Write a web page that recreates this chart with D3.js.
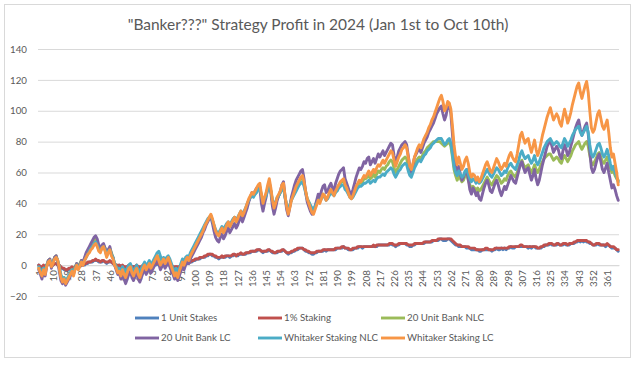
<!DOCTYPE html>
<html><head><meta charset="utf-8">
<script src="https://cdn.jsdelivr.net/npm/d3@7"></script>
<style>body{margin:0;background:#fff}text{font-family:Lato,"Open Sans",sans-serif}</style>
</head><body><svg id="c" width="636" height="374"></svg>
<script>
const titleText = '"Banker???" Strategy Profit in 2024 (Jan 1st to Oct 10th)';
const seriesNames = ["1 Unit Stakes","1%  Staking","20 Unit Bank NLC","20 Unit Bank LC","Whitaker Staking NLC","Whitaker Staking LC"];
const seriesColors = ["#4F81BD","#C0504D","#9BBB59","#8064A2","#4BACC6","#F79646"];
const yTicks = [-20,0,20,40,60,80,100,120,140];
const xTickLabels = [1,10,19,28,37,46,55,64,73,82,91,100,109,118,127,136,145,154,163,172,181,190,199,208,217,226,235,244,253,262,271,280,289,298,307,316,325,334,343,352,361];

const oneUnit = [
0,-1,-2,-1,-1,0,1,1,0,0, 1,1,0,-1,-2,-2,-3,-3,-3,-3, -2,-2,-2,-1,-1,-1,-1,0,0,0, 1,1,2,2,2,3,3,3,2,2,
2,3,2,1,2,2,2,1,0,0, -1,0,-1,-1,-1,-2,-1,-1,0,-1, -1,-1,-1,-1,-2,-1,-1,0,-1,-1, 0,-1,0,0,0,1,0,0,0,0,
0,0,1,0,-1,-1,-2,-1,-2,-1, -1,0,0,1,1,1,2,2,3,3, 4,4,4,5,5,5,6,6,7,7, 6,6,5,5,4,5,5,5,5,6,
6,5,6,6,7,6,6,7,7,7, 7,7,8,8,8,9,9,9,9,10, 10,9,8,9,9,9,10,9,8,8, 8,8,9,9,9,10,9,8,7,8,
8,9,9,10,10,11,11,11,10,9, 9,8,8,7,7,8,8,9,9,9, 9,10,9,10,10,10,10,10,10,11, 11,11,11,12,11,11,10,10,10,10,
11,11,11,12,12,11,12,12,12,12, 12,12,12,12,12,13,13,13,13,13, 13,13,13,14,13,13,12,13,13,14, 14,14,14,13,13,12,12,13,13,14,
14,14,14,14,14,15,15,15,15,15, 16,16,16,16,17,17,16,16,16,17, 17,16,15,14,13,13,12,12,12,12, 12,11,11,11,10,10,10,10,10,9,
9,10,10,10,10,10,10,9,10,10, 11,10,10,11,10,11,10,11,11,12, 11,11,12,12,12,12,12,12,12,12, 11,12,11,12,12,11,11,11,11,12,
12,13,13,13,14,13,13,13,13,14, 13,13,13,14,13,13,13,14,14,14, 15,15,16,15,16,15,16,15,15,14, 14,13,13,13,14,13,13,13,13,12,
13,13,12,11,11,11,10,9];

const onePct = [
0,-1,-1,0,-1,0,1,1,0,0, 1,1,0,0,-1,-2,-2,-3,-3,-2, -2,-1,-2,-1,-1,-1,0,0,0,1, 1,2,2,2,3,3,4,3,3,2,
3,3,2,2,2,3,2,1,1,0, 0,0,-1,0,-1,-1,-1,0,0,-1, -1,-1,0,-1,-1,-1,0,0,-1,0, 0,0,0,0,1,1,1,0,0,1,
0,1,1,0,0,-1,-1,-1,-1,-1, 0,1,1,1,2,2,2,3,3,4, 4,4,5,5,5,6,6,7,7,7, 7,6,6,5,5,5,6,5,6,6,
6,6,6,7,7,6,7,7,8,7, 7,8,8,8,9,9,9,9,10,10, 10,9,9,9,9,10,10,9,9,8, 8,9,9,9,10,10,9,8,8,8,
9,9,10,10,11,11,11,11,10,10, 9,9,8,8,8,8,9,9,9,9, 10,10,10,10,10,10,10,10,11,11, 11,11,12,12,11,11,11,10,10,11,
11,11,12,12,12,12,12,12,12,12, 12,12,13,12,13,13,13,13,13,13, 13,13,14,14,14,13,13,13,14,14, 14,14,14,14,13,13,13,13,14,14,
14,14,14,14,15,15,15,15,15,16, 16,16,16,17,17,17,17,17,17,17, 17,17,16,15,14,13,13,13,12,12, 12,12,12,11,11,11,11,10,10,10,
10,10,10,11,11,10,10,10,10,11, 11,11,11,11,11,11,11,11,12,12, 12,12,12,12,12,13,13,12,12,12, 12,12,12,12,12,12,11,11,12,12,
13,13,13,14,14,14,13,13,14,14, 13,13,14,14,14,13,14,14,14,15, 15,16,16,16,16,16,16,16,15,15, 14,13,13,14,14,14,13,13,13,13,
14,13,12,12,12,11,10,10];

const unit20NLC = [
-2,-4,-6,-2,-5,0,3,4,-1,2, 5,6,3,-2,-7,-10,-8,-11,-9,-7, -5,-3,-5,-1,1,-1,1,3,2,4, 7,9,11,13,14,16,17,15,12,10,
12,13,11,7,10,11,8,5,1,-1, -4,-3,-6,-3,-5,-7,-4,-2,-1,-4, -6,-3,-1,-4,-6,-3,-1,1,-1,0, 2,-1,1,3,5,6,5,2,1,3,
1,3,4,2,-1,-3,-6,-4,-7,-4, -1,2,0,3,5,4,7,9,11,13, 15,17,19,21,23,25,27,29,31,32, 29,25,22,20,19,22,24,21,23,26,
27,25,27,29,31,28,30,32,34,32, 34,36,39,42,44,46,45,46,48,50, 51,45,40,43,46,50,53,48,41,37, 40,43,45,47,50,51,44,38,34,38,
43,46,49,51,53,54,56,57,53,48, 43,41,38,36,35,38,41,43,42,44, 46,45,43,44,46,48,47,46,48,50, 52,53,54,55,51,49,47,45,44,46,
48,50,52,53,53,54,56,56,57,58, 56,57,59,57,59,61,60,62,63,62, 64,65,67,68,67,63,60,62,64,66, 68,69,70,69,64,60,59,62,65,67,
69,70,69,71,73,74,76,77,78,79, 80,80,80,80,80,79,78,77,78,79, 80,77,70,62,58,55,58,56,54,55, 58,59,55,52,50,51,50,48,50,48,
49,51,53,55,57,55,53,52,54,56, 58,57,55,53,54,56,55,58,60,61, 59,58,57,60,63,66,68,65,63,64, 65,62,60,62,65,62,60,62,65,67,
69,70,71,72,72,70,68,69,70,69, 67,66,69,71,69,67,69,71,74,76, 78,79,80,77,75,77,79,80,77,71, 66,65,67,69,72,73,70,67,66,68,
70,67,63,60,61,58,56,55];

const unit20LC = [
-3,-6,-9,-4,-7,-1,3,4,-2,2, 5,6,2,-4,-10,-12,-10,-13,-11,-9, -7,-4,-6,-2,1,-2,0,3,2,5, 8,10,12,14,16,18,19,17,13,11,
13,14,11,7,10,12,7,5,0,-3, -6,-5,-9,-5,-9,-12,-9,-6,-4,-8, -10,-7,-5,-9,-11,-8,-5,-3,-6,-4, -2,-5,-3,-1,2,4,1,-3,-1,1,
-2,0,2,-1,-4,-6,-9,-7,-10,-7, -4,-1,-3,0,2,1,4,6,8,10, 12,14,16,18,21,23,26,28,30,31, 27,22,18,16,15,18,20,17,19,22,
24,21,23,25,27,24,26,29,31,28, 31,34,37,41,44,47,45,48,50,51, 50,40,35,40,44,50,54,47,38,33, 37,42,45,48,52,54,44,36,32,38,
44,48,52,55,57,59,61,62,56,47, 41,38,35,33,34,38,42,46,44,48, 51,52,47,48,51,53,50,48,53,56, 59,61,62,63,56,53,50,47,46,49,
53,57,60,63,62,64,67,66,69,70, 65,67,69,66,69,72,70,72,74,71, 73,75,77,79,78,71,66,70,74,76, 78,79,80,78,71,64,60,65,70,72,
74,76,73,76,79,81,83,86,88,90, 92,95,98,100,102,103,98,94,97,103, 104,98,85,72,64,59,64,59,55,57, 60,62,56,49,46,50,48,45,47,43,
42,46,50,53,55,52,48,47,50,53, 55,52,48,45,48,51,49,52,55,58, 56,54,53,57,61,65,67,63,60,62, 63,59,55,58,62,56,52,55,60,65,
69,73,77,79,81,77,73,75,77,75, 71,69,74,78,75,71,73,77,81,85, 89,92,94,88,84,87,90,92,85,74, 63,60,62,66,70,72,67,62,60,63,
66,60,55,50,52,49,45,42];

const whitakerNLC = [
-1,-3,-5,-2,-4,0,2,3,0,2, 4,5,3,-1,-6,-9,-8,-10,-9,-7, -5,-3,-5,-2,0,-2,0,2,1,3, 5,7,9,11,12,14,15,13,10,9,
11,12,10,6,9,10,7,5,1,-1, -3,-2,-5,-1,-3,-4,-2,0,1,-2, -4,-2,0,-3,-5,-2,0,2,0,1, 3,0,2,4,6,8,9,6,3,5,
3,5,6,4,1,-2,-4,-2,-5,-2, 1,4,2,5,6,5,8,10,12,14, 16,18,20,22,24,26,28,30,31,32, 29,26,23,21,21,23,25,23,25,27,
28,26,28,30,31,29,31,33,35,33, 35,37,40,42,44,45,44,46,47,49, 50,45,41,43,45,49,52,48,42,39, 41,44,45,47,49,50,44,39,36,39,
42,44,46,48,50,52,53,54,51,47, 43,41,39,37,36,38,40,42,41,43, 45,44,42,43,45,47,46,45,47,48, 50,51,52,52,49,48,46,44,43,44,
46,48,50,51,51,52,53,53,54,55, 53,54,55,54,56,57,57,58,59,58, 60,61,62,63,62,59,57,59,61,62, 64,65,66,65,61,58,57,60,63,65,
67,68,67,69,71,72,74,75,76,78, 79,80,81,82,82,82,80,78,79,81, 82,79,72,64,60,58,61,59,57,58, 61,62,59,56,54,56,55,53,55,53,
54,56,58,60,62,60,58,57,59,61, 63,62,60,58,59,61,60,63,65,66, 64,63,62,65,68,72,74,71,69,70, 71,68,66,68,71,67,65,67,70,73,
76,78,80,81,82,80,78,79,80,79, 77,76,79,82,80,77,79,81,84,86, 88,89,90,86,84,86,88,90,86,78, 72,70,72,75,78,79,76,72,70,72,
75,71,66,62,64,60,57,54];

const whitakerLC = [
-2,-5,-7,-3,-6,-1,2,3,-1,1, 4,5,3,-2,-8,-11,-9,-12,-10,-8, -6,-4,-7,-3,0,-3,-1,2,0,3, 5,7,8,10,11,13,14,12,9,8,
11,12,9,5,8,10,6,4,0,-2, -5,-4,-7,-3,-6,-8,-5,-2,-1,-5, -7,-4,-2,-6,-8,-5,-2,0,-3,-1, 1,-2,0,2,4,6,3,0,2,4,
1,3,5,2,-1,-4,-7,-5,-8,-4, -1,2,0,3,5,3,6,8,10,12, 14,16,18,20,22,25,27,29,31,33, 30,26,22,20,19,22,24,21,23,26,
28,25,27,29,31,28,30,33,35,32, 34,37,40,43,45,47,46,48,50,52, 53,46,40,44,47,52,56,50,42,37, 40,44,46,48,52,53,45,38,33,37,
42,45,48,51,53,55,57,58,54,48, 43,40,37,34,33,36,39,42,40,43, 46,45,42,44,47,49,47,45,48,50, 52,54,55,56,52,50,47,44,43,45,
48,51,53,55,54,56,58,57,59,61, 58,60,62,60,63,65,64,66,68,66, 68,70,72,74,73,68,64,67,70,72, 75,76,78,76,70,64,62,66,70,73,
76,78,76,79,82,84,86,89,91,94, 96,99,102,105,108,110,106,100,102,106, 105,101,90,78,70,65,70,66,62,64, 68,70,66,60,57,59,58,55,57,54,
56,59,62,65,67,64,61,60,63,66, 69,67,64,62,64,66,64,68,71,73, 70,68,67,72,78,84,86,82,79,81, 82,77,73,77,81,75,71,74,79,84,
88,92,96,99,102,98,94,96,98,96, 92,90,96,101,97,92,95,99,104,108, 112,116,118,112,108,112,116,119,112,100, 89,86,88,93,98,100,95,90,88,91,
94,86,76,70,72,66,60,52];

const seriesValues = [oneUnit, onePct, unit20NLC, unit20LC, whitakerNLC, whitakerLC];
const N = whitakerLC.length;
const categories = d3.range(1, N + 1);

const plot = {left: 38, right: 619, top: 49, bottom: 296};
const svg = d3.select("#c");
const textColor = "#595959";

svg.append("rect").attr("x", 4.5).attr("y", 4.5).attr("width", 626).attr("height", 353)
  .attr("fill", "#fff").attr("stroke", "#d9d9d9");

function fitSize(str, basePx, targetW) {
  const t = svg.append("text").attr("font-size", basePx).text(str);
  const w = t.node().getComputedTextLength();
  t.remove();
  return basePx * targetW / w;
}
const titleSize = fitSize(titleText, 14, 381);
const smallSize = fitSize("Whitaker Staking NLC", 10, 94);

svg.append("text").attr("x", 318).attr("y", 30).attr("text-anchor", "middle")
  .attr("font-size", titleSize).attr("fill", textColor).text(titleText);

const x = d3.scalePoint().domain(categories).range([plot.left, plot.right]).padding(0.5);
const y = d3.scaleLinear().domain([-20, 140]).range([plot.bottom, plot.top]);

const yAxis = svg.append("g").attr("transform", `translate(${plot.left},0)`)
  .call(d3.axisLeft(y).tickValues(yTicks).tickSizeInner(-(plot.right - plot.left)).tickSizeOuter(0).tickPadding(11));
yAxis.select(".domain").remove();
yAxis.selectAll(".tick line").attr("stroke", "#d9d9d9").attr("stroke-width", 1);
yAxis.selectAll(".tick text").attr("fill", textColor).attr("font-size", smallSize)
  .style("font-family", 'Lato,"Open Sans",sans-serif');

const xAxis = svg.append("g").attr("transform", `translate(0,${y(0)})`)
  .call(d3.axisBottom(x).tickValues(xTickLabels).tickSize(0).tickPadding(0));
xAxis.select(".domain").attr("stroke", "#d9d9d9");
xAxis.selectAll(".tick text").attr("fill", textColor).attr("font-size", smallSize)
  .style("font-family", 'Lato,"Open Sans",sans-serif')
  .attr("transform", "rotate(-90)").attr("text-anchor", "end")
  .attr("x", -5).attr("y", 0).attr("dy", "0.35em");

const line = d3.line().x((d, i) => x(categories[i])).y(d => y(d)).curve(d3.curveLinear);
seriesValues.forEach((vals, k) => {
  svg.append("path").datum(vals).attr("d", line).attr("fill", "none")
    .attr("stroke", seriesColors[k]).attr("stroke-width", 2.9)
    .attr("stroke-linejoin", "round").attr("stroke-linecap", "round");
});

const legX = [135, 258, 381];
const legY = [318, 338];
seriesNames.forEach((name, k) => {
  const cx = legX[k % 3], cy = legY[Math.floor(k / 3)];
  svg.append("line").attr("x1", cx).attr("x2", cx + 24).attr("y1", cy).attr("y2", cy)
    .attr("stroke", seriesColors[k]).attr("stroke-width", 2.9);
  svg.append("text").attr("x", cx + 26).attr("y", cy).attr("dy", "0.35em")
    .attr("font-size", smallSize).attr("fill", textColor).text(name);
});
</script></body></html>
